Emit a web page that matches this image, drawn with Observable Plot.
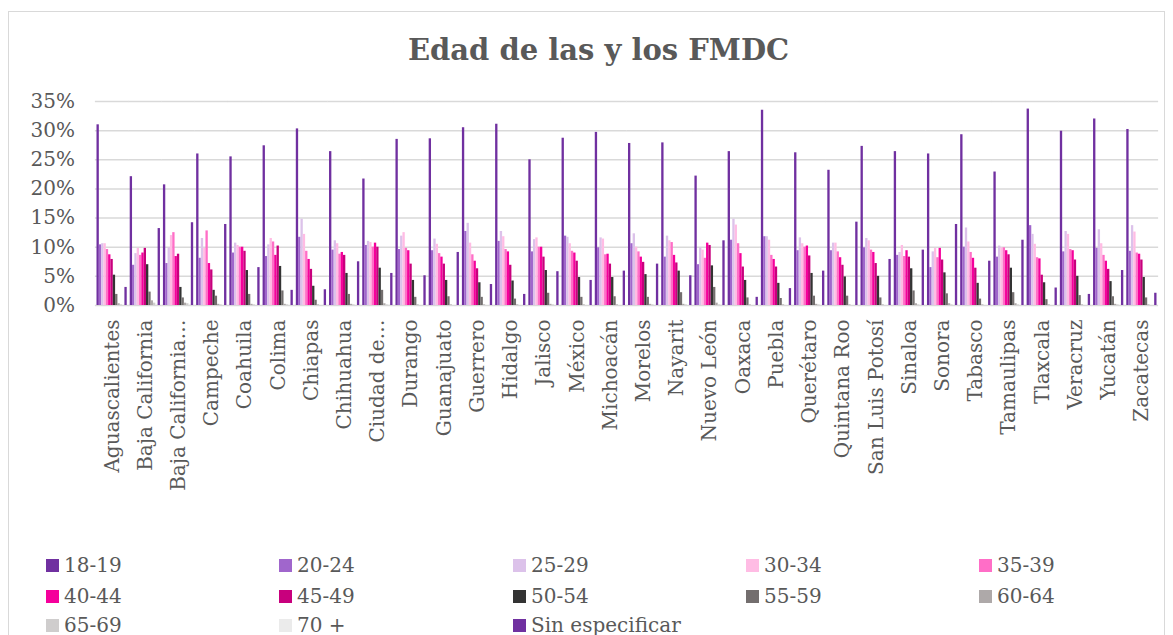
<!DOCTYPE html>
<html>
<head>
<meta charset="utf-8">
<script src="https://cdn.jsdelivr.net/npm/d3@7"></script>
<script src="https://cdn.jsdelivr.net/npm/@observablehq/plot@0.6"></script>
<style>
  body { margin: 0; background: #fff; font-family: "DejaVu Serif", serif; color: #595959; }
  #frame { position: absolute; left: 8px; top: 11px; width: 1157px; height: 650px; border: 1px solid #d9d9d9; box-sizing: border-box; }
  #title { position: absolute; left: 12px; width: 1173px; top: 33px; text-align: center; font-weight: bold; font-size: 29px; color: #595959; }
  #chart { position: absolute; left: 0; top: 0; }
  .lg { position: absolute; font-size: 20px; line-height: 24px; white-space: nowrap; }
  .lg span.sw { position: absolute; left: 0; top: 6px; width: 13px; height: 13px; }
  .lg span.tx { position: absolute; left: 18px; top: 0; }
</style>
</head>
<body>
<div id="frame"></div>
<div id="title">Edad de las y los FMDC</div>
<div id="chart"></div>
<div id="legend"></div>
<script>
const states = ["Aguascalientes","Baja California","Baja California Sur","Campeche","Coahuila","Colima","Chiapas","Chihuahua","Ciudad de México","Durango","Guanajuato","Guerrero","Hidalgo","Jalisco","México","Michoacán","Morelos","Nayarit","Nuevo León","Oaxaca","Puebla","Querétaro","Quintana Roo","San Luis Potosí","Sinaloa","Sonora","Tabasco","Tamaulipas","Tlaxcala","Veracruz","Yucatán","Zacatecas"];
const stateLabels = ["Aguascalientes","Baja California","Baja California…","Campeche","Coahuila","Colima","Chiapas","Chihuahua","Ciudad de…","Durango","Guanajuato","Guerrero","Hidalgo","Jalisco","México","Michoacán","Morelos","Nayarit","Nuevo León","Oaxaca","Puebla","Querétaro","Quintana Roo","San Luis Potosí","Sinaloa","Sonora","Tabasco","Tamaulipas","Tlaxcala","Veracruz","Yucatán","Zacatecas"];
const ageGroups = ["18-19","20-24","25-29","30-34","35-39","40-44","45-49","50-54","55-59","60-64","65-69","70 +","Sin especificar"];
const ageColors = ["#7030a0","#a066cc","#dcc2ea","#ffbce4","#ff6ec7","#f5009b","#c8007d","#333333","#736e6e","#aea9a9","#cfcdcd","#ebebeb","#7030a0"];

// values in percent, one array per age group, in state order
const v18_19 = [31.0,22.1,20.7,26.0,25.5,27.4,30.3,26.4,21.7,28.5,28.6,30.5,31.1,25.0,28.7,29.7,27.8,27.9,22.2,26.4,33.5,26.2,23.2,27.3,26.4,26.0,29.3,22.9,33.7,29.9,32.0,30.2];
const v20_24 = [10.4,6.9,7.2,8.1,9.0,8.4,11.7,9.5,10.3,9.6,9.4,12.7,11.0,9.2,11.9,9.9,10.6,8.3,7.0,11.2,11.8,9.4,9.4,9.9,8.6,6.5,10.0,8.3,13.7,9.2,9.8,9.3];
const v25_29 = [10.6,8.9,9.9,11.5,10.7,10.4,14.8,11.1,11.0,11.9,11.4,14.1,12.7,11.3,11.7,11.6,12.3,11.9,9.9,14.8,11.8,11.6,10.7,11.5,9.1,9.2,13.3,10.2,12.2,12.7,13.0,13.7];
const v30_34 = [10.6,9.8,12.0,9.8,10.3,11.5,12.2,10.6,10.8,12.5,10.5,10.7,11.8,11.6,10.6,11.4,10.0,11.1,9.5,13.8,11.2,10.6,10.7,11.1,10.3,9.8,10.9,9.9,10.5,12.2,10.6,12.6];
const v35_39 = [9.6,8.6,12.5,12.8,10.0,10.9,9.3,8.8,10.0,9.8,8.9,8.7,9.6,10.0,9.3,8.7,9.2,10.8,8.1,10.6,8.6,10.0,9.2,9.5,8.4,8.2,9.1,9.9,8.2,9.6,8.6,9.0];
const v40_44 = [8.7,9.0,8.4,7.2,10.0,8.6,7.9,9.1,10.7,9.4,8.3,7.6,9.2,10.0,9.0,8.8,8.3,8.6,10.7,8.9,7.9,10.2,8.2,9.1,9.4,9.8,8.1,9.4,8.0,9.4,7.6,8.8];
const v45_49 = [7.9,9.8,8.8,6.1,9.3,10.2,6.2,8.6,10.0,7.1,7.1,6.3,6.9,8.3,7.6,7.1,7.4,7.3,10.3,6.6,6.6,8.5,6.9,7.2,8.3,7.8,6.4,8.7,5.2,7.8,6.2,7.8];
const v50_54 = [5.2,7.0,3.1,2.6,6.0,6.7,3.3,5.5,6.4,4.3,4.3,3.9,4.2,6.0,4.8,4.8,5.3,5.9,6.8,4.3,3.8,5.5,4.9,5.0,6.3,5.6,3.8,6.4,3.9,5.0,4.1,4.8];
const v55_59 = [1.9,2.3,1.3,1.6,1.9,2.5,0.9,1.9,2.6,1.4,1.5,1.4,1.1,2.1,1.4,1.5,1.4,2.2,3.1,1.3,1.2,1.6,1.6,1.3,2.5,2.0,1.1,2.2,1.0,1.7,1.5,1.3];
const v60_64 = [0.3,0.8,0.4,0.2,0.2,0.2,0.1,0.2,0.3,0.1,0.1,0.1,0.1,0.2,0.1,0.1,0.2,0.2,0.4,0.1,0.1,0.2,0.1,0.1,0.3,0.3,0.1,0.3,0.1,0.1,0.2,0.1];
const v65_69 = [0.1,0.4,0.3,0.1,0.1,0.1,0.0,0.1,0.1,0.0,0.0,0.0,0.0,0.1,0.0,0.0,0.1,0.1,0.1,0.0,0.0,0.1,0.0,0.0,0.1,0.1,0.0,0.1,0.0,0.0,0.1,0.0];
const v70 = [0.0,0.1,0.1,0.0,0.0,0.0,0.0,0.0,0.1,0.0,0.0,0.0,0.0,0.0,0.0,0.0,0.0,0.0,0.1,0.0,0.0,0.0,0.0,0.0,0.0,0.0,0.0,0.0,0.0,0.0,0.0,0.0];
const vSin = [3.1,13.2,14.2,13.9,6.5,2.6,2.7,7.5,5.5,5.1,9.1,3.6,1.9,5.8,4.3,5.9,7.1,5.1,11.1,1.4,2.9,5.9,14.3,7.9,9.5,13.9,7.6,11.2,3.0,1.9,6.0,2.1];
const yTicks = [0,0.05,0.10,0.15,0.20,0.25,0.30,0.35];

const seriesValues = [v18_19,v20_24,v25_29,v30_34,v35_39,v40_44,v45_49,v50_54,v55_59,v60_64,v65_69,v70,vSin];
const table = [];
states.forEach((s, i) => ageGroups.forEach((g, j) => table.push({state: s, group: g, value: seriesValues[j][i] / 100})));
const labelOf = new Map(states.map((s, i) => [s, stateLabels[i]]));

const chart = Plot.plot({
  width: 1173,
  height: 500,
  marginTop: 101,
  marginBottom: 195,
  marginLeft: 95,
  marginRight: 15,
  style: {fontFamily: "DejaVu Serif", fontSize: "20px", color: "#595959", background: "transparent", overflow: "visible"},
  fx: {domain: states, paddingInner: 0.09, paddingOuter: 0.045, round: false, label: null, axis: null},
  x: {domain: ageGroups, padding: 0, round: false, axis: null},
  y: {domain: [0, 0.35], label: null, axis: null},
  color: {domain: ageGroups, range: ageColors},
  marks: [
    Plot.ruleY(yTicks, {y: d => d, stroke: "#d9d9d9", strokeWidth: 1.5, insetLeft: -1.6, insetRight: -1.6}),
    Plot.axisY(yTicks, {tickFormat: d3.format(".0%"), tickSize: 0, tickPadding: 22, fontSize: 20, label: null}),
    Plot.barY(table, {fx: "state", x: "group", y: "value", fill: "group"}),
    Plot.axisFx({anchor: "bottom", tickFormat: d => labelOf.get(d), tickRotate: -90, tickSize: 0, tickPadding: 14, fontSize: 20, label: null})
  ]
});
document.getElementById("chart").appendChild(chart);

// legend
const cols = [46, 279, 513, 746, 979];
const rows = [553, 584, 613];
const legend = document.getElementById("legend");
ageGroups.forEach((g, i) => {
  const d = document.createElement("div");
  d.className = "lg";
  d.style.left = cols[i % 5] + "px";
  d.style.top = rows[Math.floor(i / 5)] + "px";
  d.innerHTML = `<span class="sw" style="background:${ageColors[i]}"></span><span class="tx">${g}</span>`;
  legend.appendChild(d);
});
</script>
</body>
</html>
